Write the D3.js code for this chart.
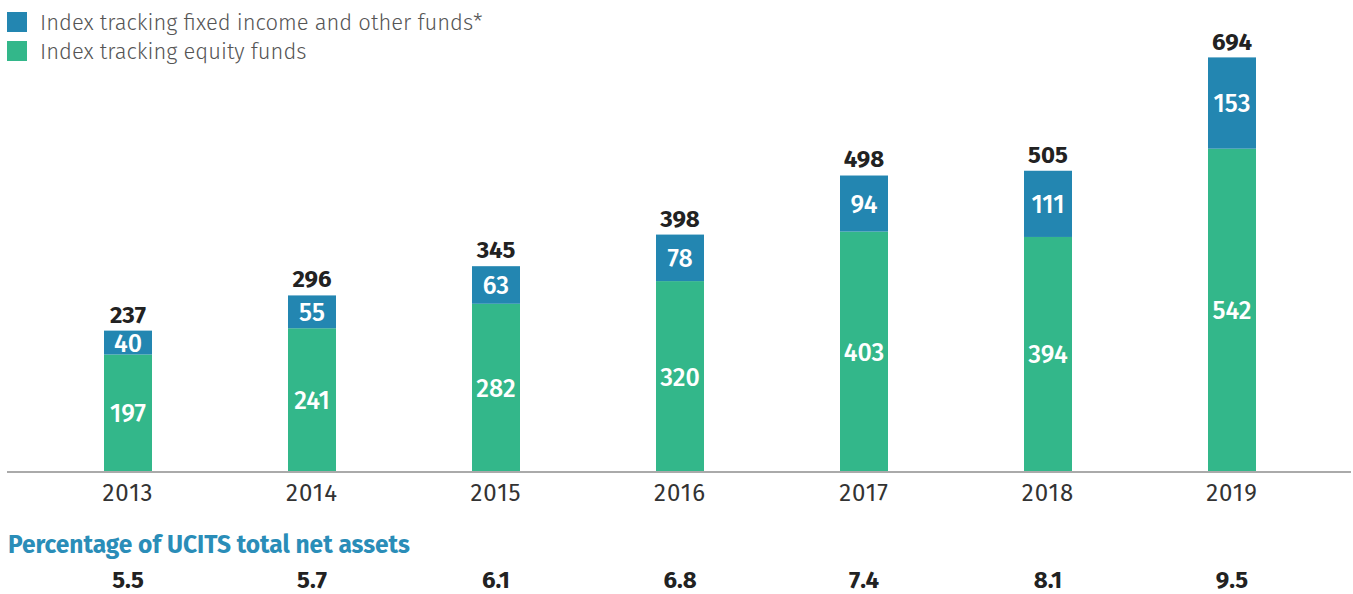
<!DOCTYPE html>
<html>
<head>
<meta charset="utf-8">
<script src="https://cdn.jsdelivr.net/npm/d3@7"></script>
<style>
  body { margin: 0; background: #fff; }
  svg text { font-family: "Fira Sans", "Noto Sans", "Open Sans", sans-serif; }
</style>
</head>
<body>
<div id="chart"></div>
<script>
/* data */
var years = ["2013", "2014", "2015", "2016", "2017", "2018", "2019"]
var equity = [197, 241, 282, 320, 403, 394, 542]
var fixedIncome = [40, 55, 63, 78, 94, 111, 153]
var totals = [237, 296, 345, 398, 498, 505, 694]
var pctUcits = ["5.5", "5.7", "6.1", "6.8", "7.4", "8.1", "9.5"]
var seriesNames = ["Index tracking fixed income and other funds*", "Index tracking equity funds"]

var colors = {
  fixed: "#2386b1",
  equity: "#33b78a",
  title: "#2a8db8"
}

var layout = {
  width: 1353,
  height: 594,
  baseY: 472,
  topY: 58,
  left: 36,
  right: 1324,
  barWidth: 48
}

var rows = years.map(function(y, i) {
  return { year: y, equity: equity[i], fixed: fixedIncome[i], total: totals[i], pct: pctUcits[i] }
})

var x = d3.scaleBand().domain(years).range([layout.left, layout.right]).padding(0)
var y = d3.scaleLinear().domain([0, d3.max(totals)]).range([layout.baseY, layout.topY])

var cx = function(d) { return x(d.year) + x.bandwidth() / 2 }

var svg = d3.select("#chart").append("svg")
  .attr("width", layout.width)
  .attr("height", layout.height)

/* legend */
var legend = svg.selectAll(".legend").data(seriesNames).enter()
  .append("g")
  .attr("class", "legend")
  .attr("transform", function(d, i) { return "translate(7," + (12 + i * 29) + ")" })

legend.append("rect")
  .attr("width", 20)
  .attr("height", 20)
  .style("fill", function(d, i) { return i === 0 ? colors.fixed : colors.equity })

legend.append("text")
  .text(function(d) { return d })
  .attr("x", 33)
  .attr("y", 18)
  .style("font-size", "22px")
  .style("font-weight", 300)
  .style("fill", "#555")

/* bars */
svg.selectAll(".eqBar").data(rows).enter()
  .append("rect")
  .attr("class", "eqBar")
  .attr("x", function(d) { return cx(d) - layout.barWidth / 2 })
  .attr("width", layout.barWidth)
  .attr("y", function(d) { return y(d.equity) })
  .attr("height", function(d) { return y(0) - y(d.equity) })
  .style("fill", colors.equity)

svg.selectAll(".fiBar").data(rows).enter()
  .append("rect")
  .attr("class", "fiBar")
  .attr("x", function(d) { return cx(d) - layout.barWidth / 2 })
  .attr("width", layout.barWidth)
  .attr("y", function(d) { return y(d.equity + d.fixed) })
  .attr("height", function(d) { return y(d.equity) - y(d.equity + d.fixed) })
  .style("fill", colors.fixed)

/* value labels inside bars */
svg.selectAll(".eqLabel").data(rows).enter()
  .append("text")
  .text(function(d) { return d.equity })
  .attr("text-anchor", "middle")
  .attr("x", cx)
  .attr("y", function(d) { return (y(d.equity) + y(0)) / 2 + 9 })
  .style("font-size", "25px")
  .style("font-weight", 500)
  .style("fill", "#fff")

svg.selectAll(".fiLabel").data(rows).enter()
  .append("text")
  .text(function(d) { return d.fixed })
  .attr("text-anchor", "middle")
  .attr("x", cx)
  .attr("y", function(d) { return (y(d.equity) + y(d.equity + d.fixed)) / 2 + 9 })
  .style("font-size", "25px")
  .style("font-weight", 500)
  .style("fill", "#fff")

svg.selectAll(".totLabel").data(rows).enter()
  .append("text")
  .text(function(d) { return d.total })
  .attr("text-anchor", "middle")
  .attr("x", cx)
  .attr("y", function(d) { return y(d.total) - 8 })
  .style("font-size", "24px")
  .style("font-weight", 700)
  .style("fill", "#222")

/* x axis */
var xAxis = svg.append("g")
  .attr("transform", "translate(0," + layout.baseY + ")")
  .call(d3.axisBottom(x).tickSize(0).tickPadding(12))

xAxis.select(".domain").remove()
xAxis.append("line")
  .attr("x1", 7)
  .attr("x2", 1351)
  .style("stroke", "#aaa")
  .style("stroke-width", 2)
xAxis.selectAll(".tick text")
  .style("font-size", "24px")
  .style("font-weight", 400)
  .style("letter-spacing", "1px")
  .style("fill", "#333")
  .style("font-family", "\"Fira Sans\", \"Noto Sans\", \"Open Sans\", sans-serif")

/* percentage row */
svg.append("text")
  .text("Percentage of UCITS total net assets")
  .attr("x", 8)
  .attr("y", 553)
  .style("font-size", "24.5px")
  .style("font-weight", 700)
  .style("fill", colors.title)

svg.selectAll(".pctLabel").data(rows).enter()
  .append("text")
  .text(function(d) { return d.pct })
  .attr("text-anchor", "middle")
  .attr("x", cx)
  .attr("y", 588)
  .style("font-size", "24px")
  .style("font-weight", 700)
  .style("fill", "#222")
</script>
</body>
</html>
